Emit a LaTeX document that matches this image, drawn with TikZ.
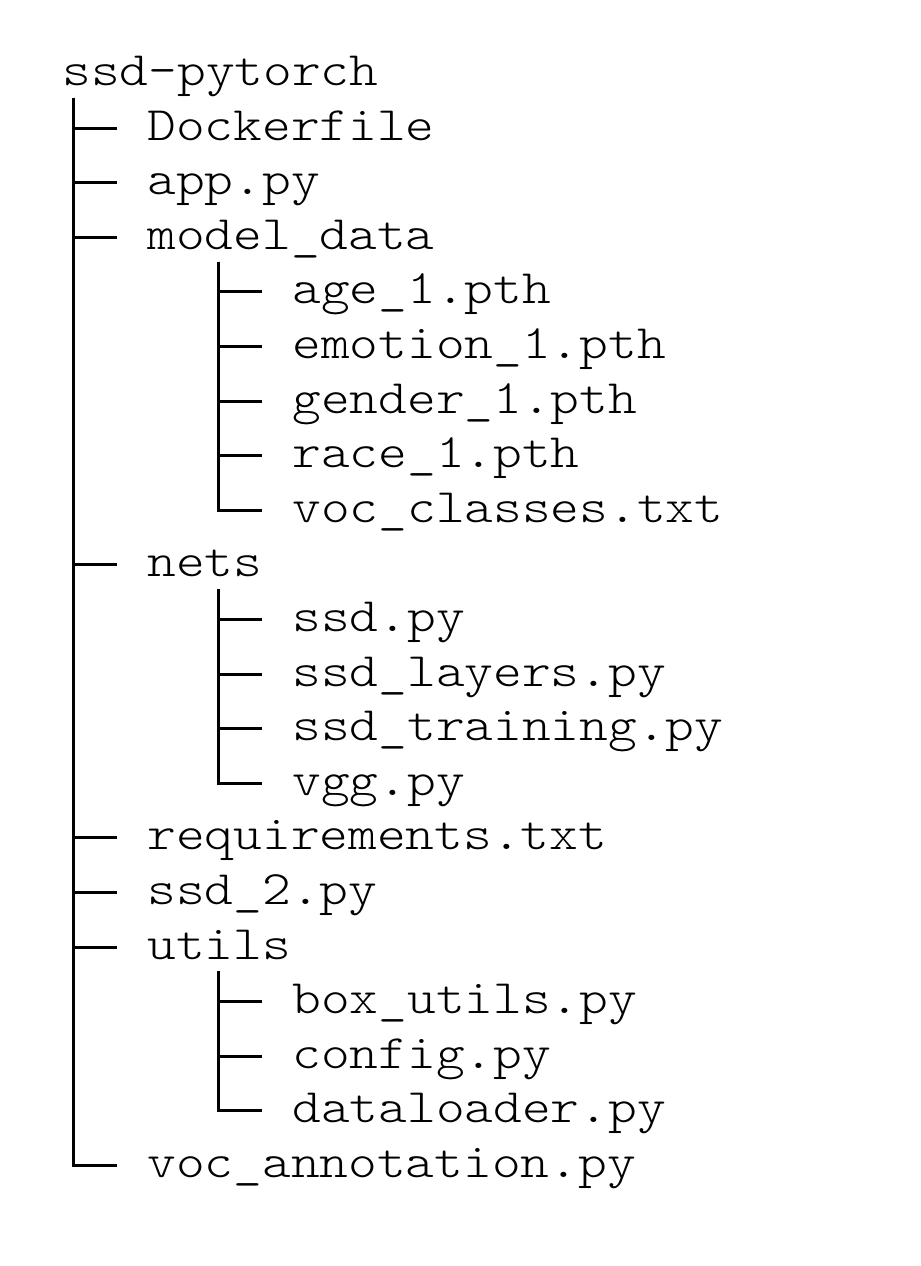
\documentclass[tikz,border=0pt]{standalone}
\usepackage{fontspec}
\usepackage{tikz}
\usetikzlibrary{positioning}
\newfontfamily\treefont[FakeStretch=1.14]{Latin Modern Mono Light}

\begin{document}
\begin{tikzpicture}[
  node distance=27.3pt,
  entry/.style={inner sep=0pt, text height=18pt, text depth=6pt,
               font=\treefont\fontsize{24pt}{24pt}\selectfont},
  nextrow/.style={below=of #1.west, anchor=west},
  inrow/.style={below=of #1.west, anchor=west, xshift=72.5pt},
  outrow/.style={below=of #1.west, anchor=west, xshift=-72.5pt},
  branch/.style={line width=1.5pt, shorten >=15pt},
]
\useasboundingbox (0,0) rectangle (460.5pt,-633pt);

\node[entry, anchor=west] (root) at (31pt,-36.7pt) {ssd-pytorch};
\node[entry, nextrow=root, xshift=42.5pt] (dock) {Dockerfile};
\node[entry, nextrow=dock]   (app)  {app.py};
\node[entry, nextrow=app]    (md)   {model\_data};
\node[entry, inrow=md]       (age)  {age\_1.pth};
\node[entry, nextrow=age]    (emo)  {emotion\_1.pth};
\node[entry, nextrow=emo]    (gen)  {gender\_1.pth};
\node[entry, nextrow=gen]    (race) {race\_1.pth};
\node[entry, nextrow=race]   (cls)  {voc\_classes.txt};
\node[entry, outrow=cls]     (nets) {nets};
\node[entry, inrow=nets]     (ssd)  {ssd.py};
\node[entry, nextrow=ssd]    (lay)  {ssd\_layers.py};
\node[entry, nextrow=lay]    (trn)  {ssd\_training.py};
\node[entry, nextrow=trn]    (vgg)  {vgg.py};
\node[entry, outrow=vgg]     (req)  {requirements.txt};
\node[entry, nextrow=req]    (two)  {ssd\_2.py};
\node[entry, nextrow=two]    (utl)  {utils};
\node[entry, inrow=utl]      (box)  {box\_utils.py};
\node[entry, nextrow=box]    (cfg)  {config.py};
\node[entry, nextrow=cfg]    (ldr)  {dataloader.py};
\node[entry, outrow=ldr]     (ann)  {voc\_annotation.py};

% stems
\coordinate (rootstem) at ([xshift=5.5pt]root.south west);
\coordinate (mdstem)   at ([xshift=35.5pt]md.south west);
\coordinate (netstem)  at ([xshift=35.5pt]nets.south west);
\coordinate (utlstem)  at ([xshift=35.5pt]utl.south west);

\draw[branch] (rootstem) |- (dock.west);
\draw[branch] (rootstem) |- (app.west);
\draw[branch] (rootstem) |- (md.west);
\draw[branch] (rootstem) |- (nets.west);
\draw[branch] (rootstem) |- (req.west);
\draw[branch] (rootstem) |- (two.west);
\draw[branch] (rootstem) |- (utl.west);
\draw[branch] (rootstem) |- (ann.west);

\draw[branch] (mdstem) |- (age.west);
\draw[branch] (mdstem) |- (emo.west);
\draw[branch] (mdstem) |- (gen.west);
\draw[branch] (mdstem) |- (race.west);
\draw[branch] (mdstem) |- (cls.west);

\draw[branch] (netstem) |- (ssd.west);
\draw[branch] (netstem) |- (lay.west);
\draw[branch] (netstem) |- (trn.west);
\draw[branch] (netstem) |- (vgg.west);

\draw[branch] (utlstem) |- (box.west);
\draw[branch] (utlstem) |- (cfg.west);
\draw[branch] (utlstem) |- (ldr.west);
\end{tikzpicture}
\end{document}
